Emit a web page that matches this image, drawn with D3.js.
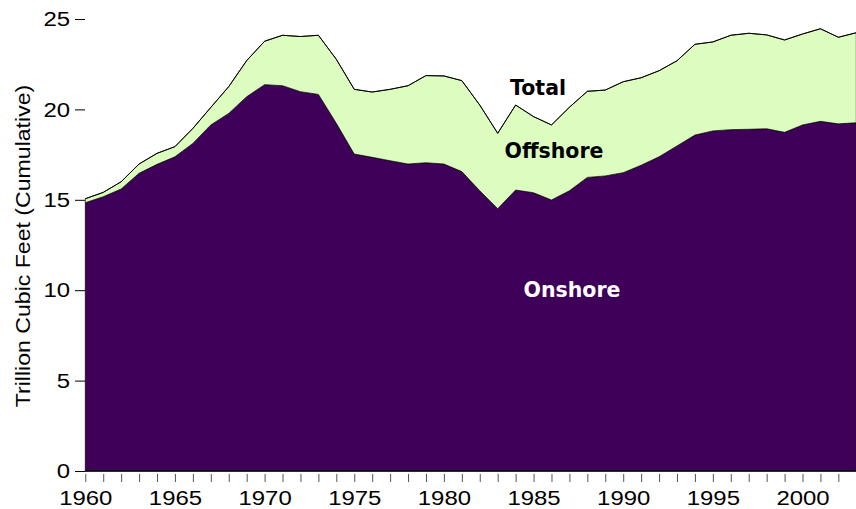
<!DOCTYPE html>
<html>
<head>
<meta charset="utf-8">
<script src="https://cdn.jsdelivr.net/npm/d3@7"></script>
<style>
  html, body { margin: 0; padding: 0; background: #fff; }
  svg { display: block; }
</style>
</head>
<body>
<svg id="chart" width="856" height="509"></svg>
<script>
const years = d3.range(1960, 2004);
const onshore = [14.84, 15.17, 15.6, 16.47, 16.96, 17.38, 18.12, 19.14, 19.78, 20.7,
  21.37, 21.31, 20.98, 20.83, 19.23, 17.53, 17.35, 17.16, 16.98, 17.05,
  16.98, 16.56, 15.5, 14.51, 15.54, 15.39, 14.99, 15.5, 16.24, 16.32,
  16.5, 16.91, 17.38, 17.98, 18.58, 18.81, 18.88, 18.9, 18.93, 18.73,
  19.14, 19.34, 19.2, 19.26];
const total = [15.06, 15.41, 16.0, 16.98, 17.57, 17.94, 18.95, 20.11, 21.26, 22.7,
  23.77, 24.1, 24.03, 24.1, 22.77, 21.11, 20.96, 21.11, 21.31, 21.87,
  21.85, 21.59, 20.24, 18.68, 20.24, 19.6, 19.14, 20.12, 21.0, 21.07,
  21.53, 21.75, 22.14, 22.69, 23.6, 23.73, 24.1, 24.21, 24.12, 23.84,
  24.17, 24.46, 23.99, 24.24];
const offshore = total.map((t, i) => +(t - onshore[i]).toFixed(2));
const yTicks = [0, 5, 10, 15, 20, 25];
const xTickLabels = [1960, 1965, 1970, 1975, 1980, 1985, 1990, 1995, 2000];

const rows = years.map((y, i) => ({ year: y, Onshore: onshore[i], Offshore: offshore[i] }));
const stack = d3.stack().keys(["Onshore", "Offshore"])(rows);

const svg = d3.select("#chart");
const x = d3.scaleLinear().domain([1960, 2003]).range([85.3, 856.3]);
const y = d3.scaleLinear().domain([0, 25]).range([471, 19]);

const colors = { Onshore: "#3f0059", Offshore: "#dcfcc0" };

const area = d3.area()
  .x(d => x(d.data.year))
  .y0(d => y(d[0]))
  .y1(d => y(d[1]));

svg.append("g").selectAll("path")
  .data(stack)
  .join("path")
  .attr("d", area)
  .attr("fill", d => colors[d.key])
  .attr("stroke", "#000")
  .attr("stroke-width", 0.7);

// top outline (Total)
svg.append("path")
  .datum(stack[1])
  .attr("d", d3.line().x(d => x(d.data.year)).y(d => y(d[1])))
  .attr("fill", "none")
  .attr("stroke", "#000")
  .attr("stroke-width", 1);

const stretch = 1.14;

// x axis
const xAxis = d3.axisBottom(x)
  .tickValues(d3.range(1960, 2003))
  .tickSize(9)
  .tickFormat(d => xTickLabels.includes(d) ? d : "");
const gx = svg.append("g").attr("transform", "translate(0,472)").call(xAxis);
gx.select(".domain").attr("d", "M85,-1H856").attr("stroke", "#000").attr("stroke-width", 1.5);
gx.selectAll(".tick line").attr("stroke", "#555").attr("y1", 2).attr("y2", 10);
gx.selectAll(".tick text")
  .attr("y", 33)
  .attr("dy", null)
  .attr("transform", `scale(${stretch},1)`)
  .attr("font-family", "Liberation Sans, Arial, sans-serif")
  .attr("font-size", 21)
  .attr("fill", "#000");

// y axis
const yAxis = d3.axisLeft(y).tickValues(yTicks).tickSize(10).tickPadding(5);
const gy = svg.append("g").attr("transform", "translate(85,0)").call(yAxis);
gy.select(".domain").remove();
gy.selectAll(".tick line").attr("stroke", "#000");
gy.selectAll(".tick text")
  .attr("x", -15 / stretch)
  .attr("transform", `scale(${stretch},1)`)
  .attr("font-family", "Liberation Sans, Arial, sans-serif")
  .attr("font-size", 21)
  .attr("fill", "#000");

// y title
svg.append("text")
  .attr("transform", "translate(30,246) rotate(-90) scale(1.1,1)")
  .attr("text-anchor", "middle")
  .attr("font-family", "Liberation Sans, Arial, sans-serif")
  .attr("font-size", 21)
  .attr("fill", "#000")
  .text("Trillion Cubic Feet (Cumulative)");

// series labels
const lab = (t, cx, by, fill) => svg.append("text")
  .attr("x", cx).attr("y", by)
  .attr("text-anchor", "middle")
  .attr("font-family", "DejaVu Sans, Verdana, sans-serif")
  .attr("font-weight", "bold")
  .attr("font-size", 20.5)
  .attr("fill", fill)
  .text(t);
lab("Total", 538, 95, "#000");
lab("Offshore", 554, 158, "#000");
lab("Onshore", 572, 297, "#fff");
</script>
</body>
</html>
